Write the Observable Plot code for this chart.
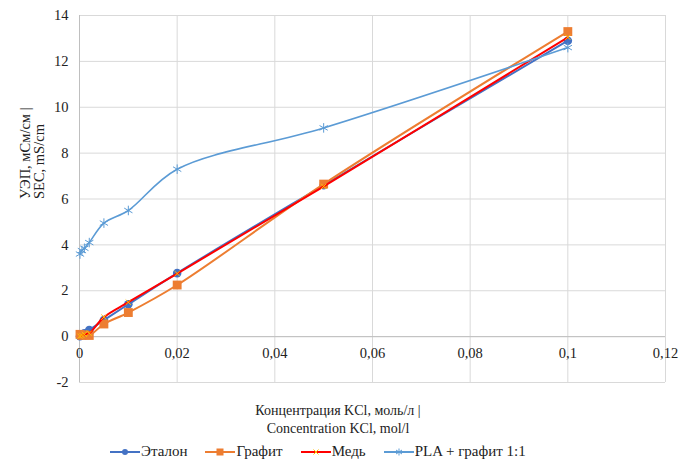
<!DOCTYPE html>
<html><head><meta charset="utf-8">
<script src="https://cdn.jsdelivr.net/npm/d3@7"></script>
<script src="https://cdn.jsdelivr.net/npm/@observablehq/plot@0.6"></script>
<style>
body{margin:0;background:#fff;font-family:"Liberation Serif","Times New Roman","DejaVu Serif",serif;}
#wrap{width:684px;}
.xt{text-align:center;width:684px;font-size:14px;line-height:18px;color:#222;margin-left:-4px;margin-top:2px;}
.lg{display:flex;gap:0;margin-left:110px;margin-top:5px;font-size:15px;color:#222;align-items:center;}
.lg .it{display:flex;align-items:center;margin-right:18px;}
.lg svg{margin-right:1px;}
</style></head>
<body><div id="wrap"></div>
<script>
const conc = [0.0001, 0.0005, 0.001, 0.002, 0.005, 0.01, 0.02, 0.05, 0.1];
const etalon = [0.015, 0.074, 0.147, 0.29, 0.72, 1.41, 2.77, 6.6, 12.9];
const grafit = [0.1, 0.05, 0.08, 0.05, 0.55, 1.05, 2.25, 6.65, 13.3];
const med = [0.02, 0.05, 0.1, 0.15, 0.85, 1.5, 2.75, 6.55, 13.05];
const pla = [3.6, 3.75, 3.85, 4.1, 4.95, 5.5, 7.3, 9.1, 12.6];
const seriesNames = ["Эталон", "Графит", "Медь", "PLA + графит 1:1"];
const xTicks = [0, 0.02, 0.04, 0.06, 0.08, 0.1, 0.12];
const yTicks = [-2, 0, 2, 4, 6, 8, 10, 12, 14];
const yLabel = "УЭП, мСм/см |\nSEC, mS/cm";
const xLabel = ["Концентрация KCl, моль/л |", "Concentration KCl, mol/l"];

const colors = {"Эталон":"#4472C4","Графит":"#ED7D31","Медь":"#FF0000","PLA + графит 1:1":"#5B9BD5"};
const vals = [etalon, grafit, med, pla];
const rows = [];
seriesNames.forEach((s,i)=>conc.forEach((c,j)=>rows.push({series:s,x:c,y:vals[i][j]})));
const fmt = d => String(d).replace(".", ",");
const bySeries = s => rows.filter(r=>r.series===s);
const FONT = '"Liberation Serif","Times New Roman","DejaVu Serif",serif';

const chart = Plot.plot({
  width: 684, height: 400,
  marginTop: 15, marginBottom: 18, marginLeft: 79, marginRight: 19,
  style: {fontFamily: FONT, fontSize: "14px", color: "#222", background: "#fff"},
  x: {domain: [0, 0.12], axis: null},
  y: {domain: [-2, 14], axis: null},
  marks: [
    Plot.gridX(xTicks, {stroke: "#d9d9d9", strokeOpacity: 1}),
    Plot.gridY(yTicks, {stroke: "#d9d9d9", strokeOpacity: 1}),
    Plot.ruleY([0], {stroke: "#bfbfbf"}),
    Plot.ruleX([0], {stroke: "#bfbfbf"}),
    Plot.text(yTicks, {y: d => d, frameAnchor: "left", dx: -11, textAnchor: "end", text: d => String(d), fontSize: 14.5}),
    Plot.text(xTicks, {x: d => d, y: 0, dy: 17, text: d => fmt(d), fontSize: 14.5}),
    Plot.text([yLabel], {frameAnchor: "left", dx: -47, rotate: -90, fontSize: 14.5, lineHeight: 0.95}),
    Plot.line(bySeries("Эталон"), {x:"x", y:"y", stroke: colors["Эталон"], strokeWidth: 2, curve: "catmull-rom"}),
    Plot.dot(bySeries("Эталон"), {x:"x", y:"y", fill: colors["Эталон"], r: 4.3, symbol: "circle"}),
    Plot.line(bySeries("Графит"), {x:"x", y:"y", stroke: colors["Графит"], strokeWidth: 2, curve: "catmull-rom"}),
    Plot.dot(bySeries("Графит"), {x:"x", y:"y", fill: colors["Графит"], r: 5, symbol: "square"}),
    Plot.line(bySeries("Медь"), {x:"x", y:"y", stroke: colors["Медь"], strokeWidth: 2, curve: "catmull-rom"}),
    Plot.dot(bySeries("Медь"), {x:"x", y:"y", stroke: "#FFC000", r: 2.5, symbol: "times", strokeWidth: 1}),
    Plot.line(bySeries("PLA + графит 1:1"), {x:"x", y:"y", stroke: colors["PLA + графит 1:1"], strokeWidth: 1.6, curve: "catmull-rom"}),
    Plot.dot(bySeries("PLA + графит 1:1"), {x:"x", y:"y", stroke: colors["PLA + графит 1:1"], r: 4.5, symbol: "asterisk", strokeWidth: 1})
  ]
});
const wrap = document.getElementById("wrap");
wrap.appendChild(chart);
const xt = document.createElement("div");
xt.className = "xt";
xt.innerHTML = xLabel.join("<br>");
wrap.appendChild(xt);

const lg = document.createElement("div");
lg.className = "lg";
const markerSvg = {
  "Эталон": c => `<circle cx="15" cy="6" r="3" fill="${c}"/>`,
  "Графит": c => `<rect x="11.5" y="2.5" width="7" height="7" fill="${c}"/>`,
  "Медь": c => `<path d="M12.5 3.5L17.5 8.5M17.5 3.5L12.5 8.5" stroke="#FFC000" stroke-width="1"/>`,
  "PLA + графит 1:1": c => `<path d="M15 2.5V9.5M12 4L18 8M18 4L12 8" stroke="${c}" stroke-width="1"/>`
};
seriesNames.forEach(s=>{
  const c = colors[s];
  const it = document.createElement("div");
  it.className = "it";
  it.innerHTML = `<svg width="30" height="12"><line x1="0" x2="30" y1="6" y2="6" stroke="${c}" stroke-width="2"/>${markerSvg[s](c)}</svg><span>${s}</span>`;
  lg.appendChild(it);
});
wrap.appendChild(lg);
</script></body></html>
